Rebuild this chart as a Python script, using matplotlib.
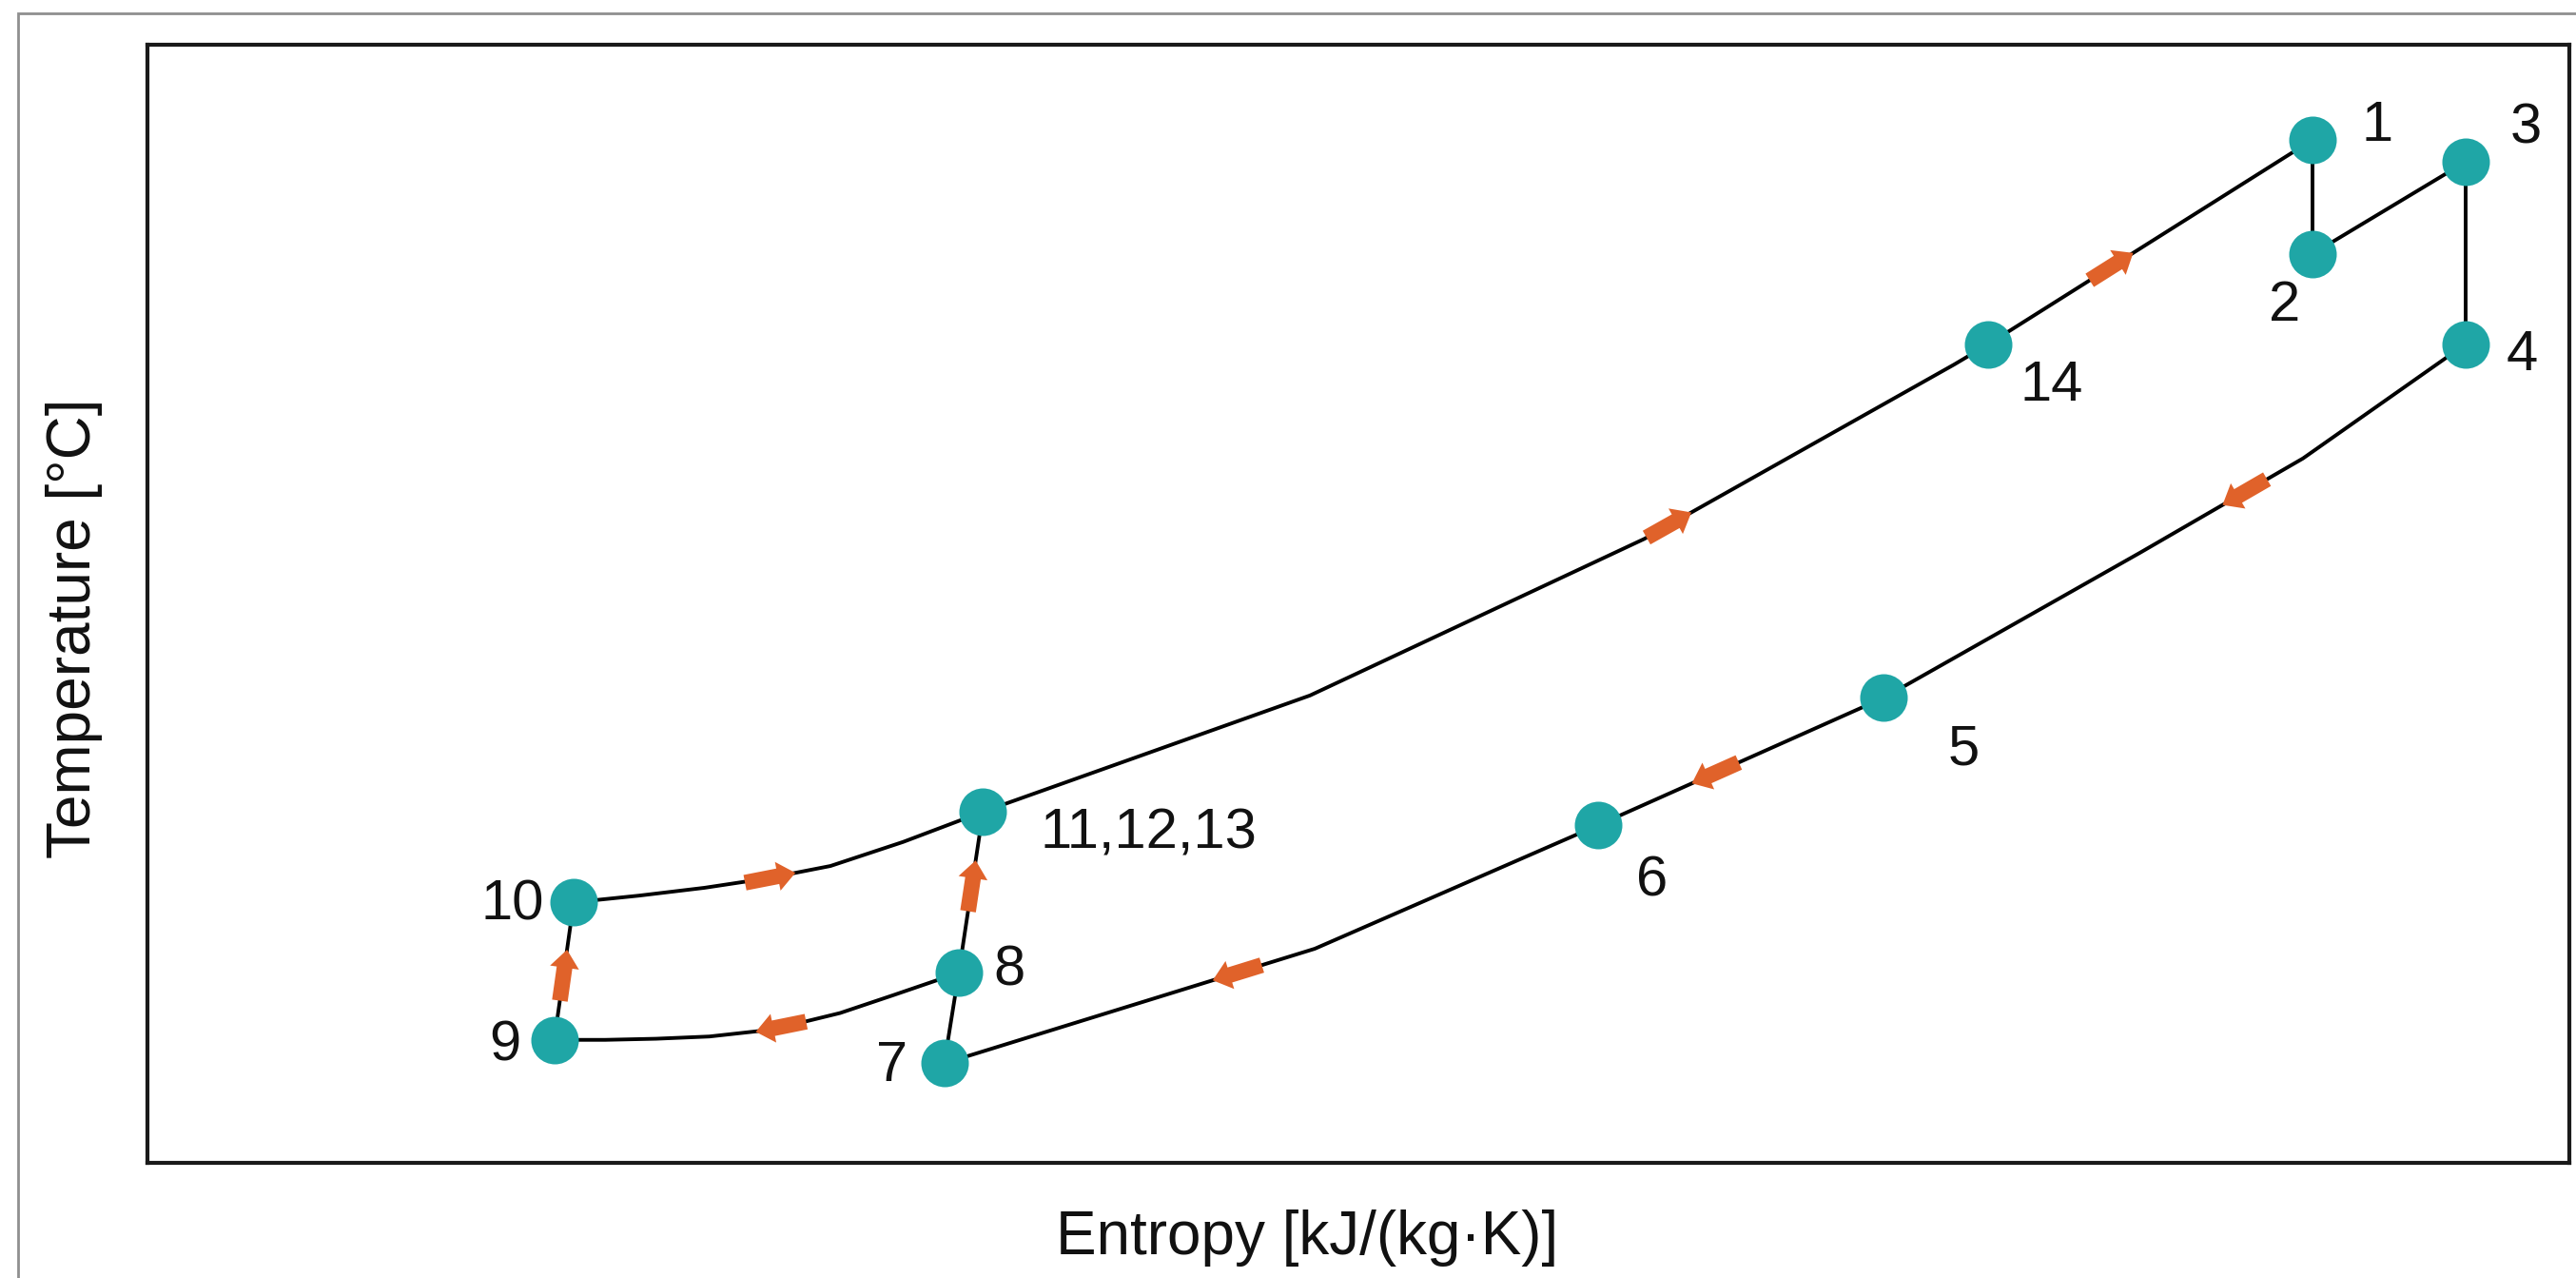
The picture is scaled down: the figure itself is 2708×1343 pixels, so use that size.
import numpy as np
import matplotlib
matplotlib.use('Agg')
import matplotlib.pyplot as plt
from matplotlib.patches import Rectangle

plt.rcParams['font.family'] = ['Liberation Sans', 'DejaVu Sans']

# === DATA (chart units; axes carry no ticks) ===
state_labels = ['1', '2', '3', '4', '5', '6', '7', '8', '9', '10', '11,12,13', '14']
state_s = [8.94, 8.94, 9.57, 9.57, 7.17, 5.99, 3.29, 3.35, 1.68, 1.76, 3.45, 7.60]
state_T = [91.5, 81.3, 89.5, 73.2, 41.6, 30.2, 8.9, 17.0, 11.0, 23.3, 31.4, 73.2]

# process lines in flow direction: (entropy, temperature)
path_14_1 = ([7.60, 8.94], [73.2, 91.5])
path_1_2 = ([8.94, 8.94], [91.5, 81.3])
path_2_3 = ([8.94, 9.57], [81.3, 89.5])
path_3_4 = ([9.57, 9.57], [89.5, 73.2])
path_4_5 = ([9.57, 8.90, 8.23, 7.17], [73.2, 63.0, 54.6, 41.6])
path_5_6 = ([7.17, 5.99], [41.6, 30.2])
path_6_7 = ([5.99, 4.82, 3.29], [30.2, 19.15, 8.9])
path_7_8 = ([3.29, 3.35], [8.9, 17.0])
path_8_9 = ([3.35, 3.08, 2.86, 2.69, 2.53, 2.32, 2.10, 1.89, 1.68],
            [17.0, 15.0, 13.4, 12.5, 11.8, 11.3, 11.1, 11.0, 11.0])
path_9_10 = ([1.68, 1.76], [11.0, 23.3])
path_10_11 = ([1.76, 2.03, 2.30, 2.56, 2.82, 3.12, 3.45],
              [23.3, 23.9, 24.6, 25.45, 26.55, 28.7, 31.4])
path_8_11 = ([3.35, 3.45], [17.0, 31.4])
path_11_14 = ([3.45, 4.80, 6.18, 7.46, 7.60], [31.4, 41.8, 55.8, 71.4, 73.2])

paths = [path_14_1, path_1_2, path_2_3, path_3_4, path_4_5, path_5_6, path_6_7,
         path_7_8, path_8_9, path_9_10, path_10_11, path_8_11, path_11_14]
# where along each line the flow arrow sits (fraction of its length), None = no arrow
arrow_frac = [0.38, None, None, None, 0.39, 0.59, 0.56, None, 0.45, 0.47, 0.47, 0.54, 0.67]

# label offsets from the state point, in points
label_offset = {
    '1': (49, 15), '2': (-21, -35), '3': (46, 30), '4': (43, -4),
    '5': (60, -35), '6': (41, -38), '7': (-40, 2), '8': (38, 6),
    '9': (-37, 0), '10': (-46, 2), '11,12,13': (125, -12), '14': (48, -27),
}

teal = '#1fa6a6'
orange = '#e0622a'

fig = plt.figure(figsize=(27.08, 13.43), dpi=100)
ax = fig.add_axes([0.05724, 0.0901, 0.94018, 0.87491])
ax.set_xlim(0, 10)
ax.set_ylim(0, 100)
ax.set_xticks([])
ax.set_yticks([])
for sp in ax.spines.values():
    sp.set_linewidth(3.0)
    sp.set_color('#1a1a1a')

# outer frame (only left and top edges are in the picture)
fig.patches.append(Rectangle((0.0070, -0.05), 1.1, 1.0396, transform=fig.transFigure,
                             fill=False, edgecolor='#8f8f8f', linewidth=2.0))

for xs, ys in paths:
    ax.plot(xs, ys, color='black', lw=2.8, solid_capstyle='round',
            solid_joinstyle='round', zorder=2)


def draw_arrow(xs, ys, frac):
    pts = ax.transData.transform(np.column_stack([xs, ys]))
    seg = np.diff(pts, axis=0)
    seglen = np.hypot(seg[:, 0], seg[:, 1])
    cum = np.concatenate([[0], np.cumsum(seglen)])
    target = frac * cum[-1]
    i = int(np.clip(np.searchsorted(cum, target) - 1, 0, len(seg) - 1))
    u = seg[i] / seglen[i]
    c = pts[i] + u * (target - cum[i])
    half = 27
    tail, head = ax.transData.inverted().transform([c - u * half, c + u * half])
    ax.annotate('', xy=head, xytext=tail, zorder=3,
                arrowprops=dict(arrowstyle='simple,head_length=0.8,head_width=1.3,tail_width=0.7',
                                mutation_scale=17, color=orange, lw=0, shrinkA=0, shrinkB=0))


for (xs, ys), f in zip(paths, arrow_frac):
    if f is not None:
        draw_arrow(xs, ys, f)

ax.plot(state_s, state_T, 'o', ms=36, color=teal, mec='none', zorder=4)

for lab, s, t in zip(state_labels, state_s, state_T):
    dx, dy = label_offset[lab]
    ax.annotate(lab, (s, t), xytext=(dx, dy), textcoords='offset points',
                ha='center', va='center_baseline', fontsize=43, color='#111111', zorder=5)

fig.text(0.5074, 0.0186, 'Entropy [kJ/(kg·K)]', ha='center', va='baseline', fontsize=46, color='#111111')
fig.text(0.0288, 0.5086, 'Temperature [°C]', ha='center', va='center', rotation=90, fontsize=46, color='#111111')

fig.savefig('out.png', dpi=100)
